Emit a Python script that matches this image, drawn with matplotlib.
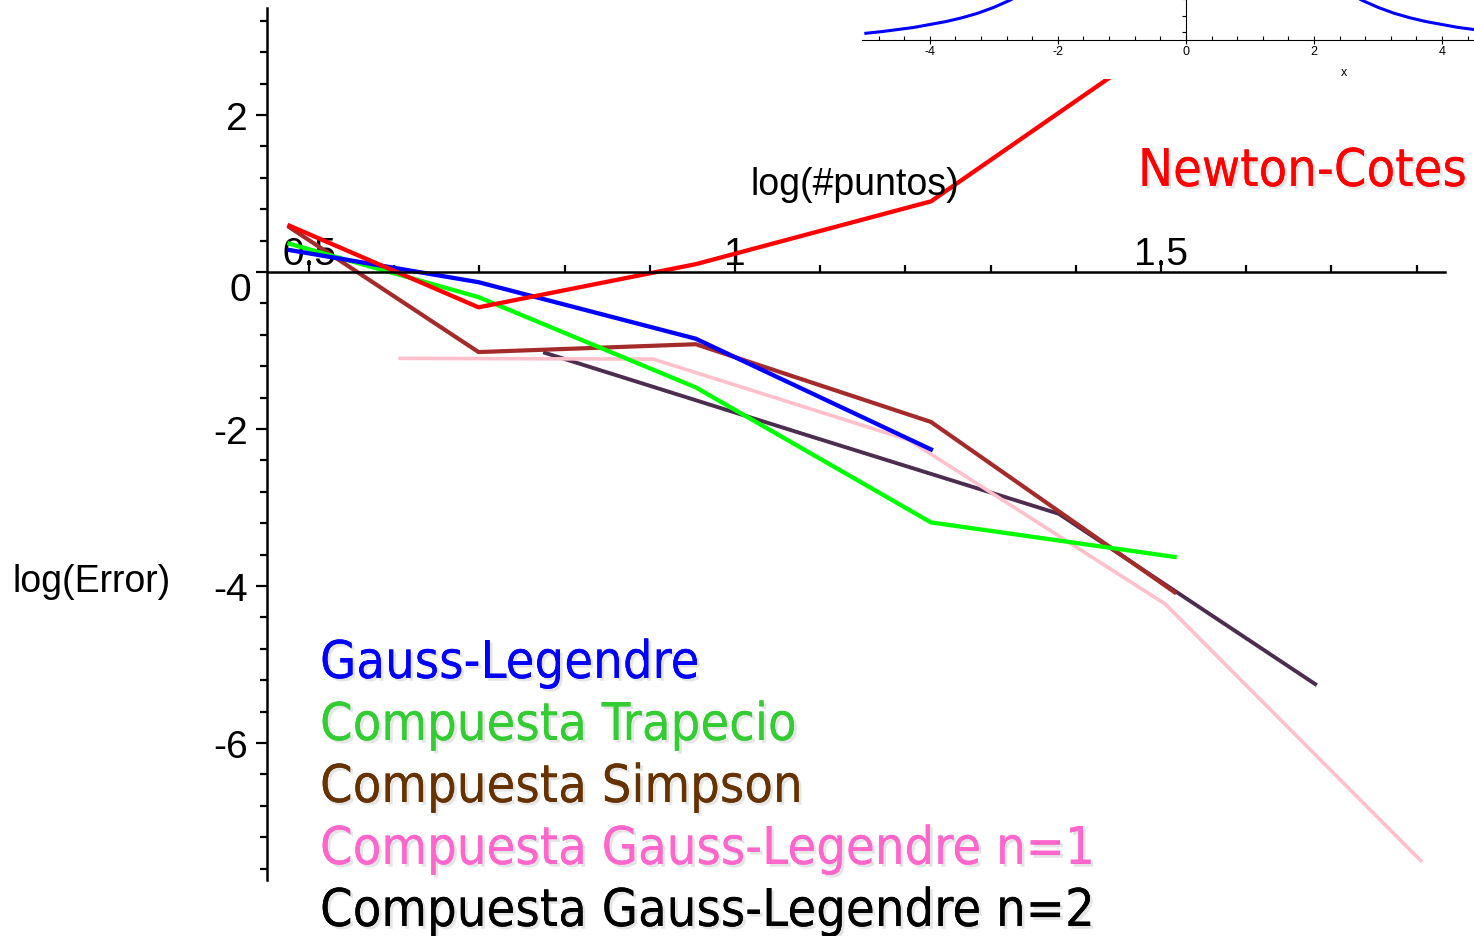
import matplotlib
matplotlib.use("Agg")
import numpy as np
import matplotlib.pyplot as plt
from matplotlib.ticker import FixedLocator
from matplotlib import patheffects as pe

# log10(#puntos) vs log10(error)
x_odd = [0.477, 0.699, 0.954, 1.230, 1.516]
newton_cotes = [0.59, -0.45, 0.10, 0.90, 3.05]
gauss_legendre = [0.28, -0.13, -0.85, -2.26]
trapecio = [0.36, -0.32, -1.47, -3.19, -3.63]
simpson = [0.57, -1.02, -0.92, -1.91, -4.08]
x_gl1 = [0.607, 0.904, 1.204, 1.505, 1.805]
gl_n1 = [-1.10, -1.11, -2.14, -4.23, -7.50]
x_gl2 = [0.777, 1.079, 1.380, 1.681]
gl_n2 = [-1.03, -2.06, -3.08, -5.25]

labels = ["Gauss-Legendre", "Compuesta Trapecio", "Compuesta Simpson",
          "Compuesta Gauss-Legendre n=1", "Compuesta Gauss-Legendre n=2"]
label_colors = ["#0000ff", "#33cc33", "#663300", "#ff66cc", "#000000"]

xticks = [0.5, 1, 1.5]
xtick_labels = ["0.5", "1", "1.5"]
yticks = [-6, -4, -2, 0, 2]
ytick_labels = ["-6", "-4", "-2", "", "2"]

# recuadro: integrando (solo la parte inferior es visible)
f_x = [-5.0, -4.75, -4.5, -4.25, -4.0, -3.75, -3.5, -3.25, -3.0, -2.75, -2.5, -2.0, -1.0, 0.0,
       1.0, 2.0, 2.5, 2.75, 3.0, 3.25, 3.5, 3.75, 4.0, 4.25, 4.5, 4.75, 5.0]
f_y = [0.038, 0.042, 0.047, 0.052, 0.059, 0.066, 0.075, 0.086, 0.100, 0.117, 0.138, 0.2, 0.5, 1.0,
       0.5, 0.2, 0.138, 0.117, 0.100, 0.086, 0.075, 0.066, 0.059, 0.052, 0.047, 0.042, 0.038]
inset_ticks = [-4, -2, 0, 2, 4]

W, H = 1474, 937
fx = lambda px: px / W
fy = lambda py: 1 - py / H

plt.rcParams['font.family'] = ['Liberation Sans', 'DejaVu Sans']
fig = plt.figure(figsize=(W / 100, H / 100), dpi=100)
ax = fig.add_axes([0, 0, 1, 1])
ax.set_xlim(0.1373, 1.8674); ax.set_ylim(-8.459, 3.478)

ax.plot(x_gl2, gl_n2, color="#4c2c4f", lw=2.8, zorder=2.0)
ax.plot(x_gl1, gl_n1, color="#ffc0cb", lw=2.6, zorder=2.1)
ax.plot(x_odd, simpson, color="#a52a2a", lw=3.0, zorder=2.2)
ax.plot(x_odd, trapecio, color="#00ff00", lw=3.1, zorder=2.3)
ax.plot(x_odd[:4], gauss_legendre, color="#0000ff", lw=3.1, zorder=2.4)
ax.plot(x_odd, newton_cotes, color="#ff0000", lw=3.1, zorder=2.5)

for s in ("right", "bottom"):
    ax.spines[s].set_visible(False)
ax.spines["left"].set_position(("data", 0.451)); ax.spines["left"].set_bounds(-7.75, 3.36)
ax.spines["top"].set_position(("data", 0)); ax.spines["top"].set_bounds(0.451, 1.833)
for s in ("left", "top"):
    ax.spines[s].set_linewidth(1.8)
ax.xaxis.set_ticks_position("top"); ax.yaxis.set_ticks_position("left")
ax.set_xticks(xticks, xtick_labels)
ax.xaxis.set_minor_locator(FixedLocator([v for v in np.round(np.arange(0.6, 1.81, 0.1), 1) if v not in (1.0, 1.5)]))
ax.set_yticks(yticks, ytick_labels)
ax.yaxis.set_minor_locator(FixedLocator(np.round(np.arange(-7.6, 3.3, 0.4), 1)))
ax.tick_params(axis="x", which="major", direction="out", length=9, width=1.6, pad=-9, labelsize=28)
ax.tick_params(axis="x", which="minor", direction="out", length=5, width=1.6)
ax.tick_params(axis="y", which="major", direction="out", length=8, width=1.6, pad=6, labelsize=28)
ax.tick_params(axis="y", which="minor", direction="out", length=5, width=1.6)
ax.text(fx(240), fy(291), "0", transform=ax.transAxes, ha="center", va="center", fontsize=28)

ax.text(fx(855), fy(185), "log(#puntos)", transform=ax.transAxes, ha="center", va="center", fontsize=27)
ax.text(fx(92), fy(582), "log(Error)", transform=ax.transAxes, ha="center", va="center", fontsize=27)

shadow = [pe.withSimplePatchShadow(offset=(2, -2), shadow_rgbFace="#aaaaaa", alpha=0.3), pe.Normal()]
big = dict(family="DejaVu Sans", fontstretch="condensed", fontsize=37.5, va="baseline", ha="left",
           transform=ax.transAxes, path_effects=shadow)
ax.text(fx(1138), fy(187), "Newton-Cotes", color="#ff0000", **big)
for i, (lab, c) in enumerate(zip(labels, label_colors)):
    ax.text(fx(320), fy(679 + 62 * i), lab, color=c, **big)

# recuadro con la funcion
ins = fig.add_axes([fx(862), fy(80), fx(1474) - fx(862), 80 / H])
ins.set_zorder(5)
ins.set_xlim(-5.06, 4.5); ins.set_ylim(-0.0714, 0.1196)
ins.plot(f_x, f_y, color="#0000ff", lw=2.2)
for s in ("right", "top"):
    ins.spines[s].set_visible(False)
ins.spines["bottom"].set_position(("data", 0.021))
ins.spines["left"].set_position(("data", 0)); ins.spines["left"].set_bounds(0.021, 0.1196)
ins.set_xticks(inset_ticks, [str(t) for t in inset_ticks])
ins.xaxis.set_minor_locator(FixedLocator(np.round(np.arange(-4.8, 4.5, 0.4), 1)))
ins.set_yticks([0.04, 0.08, 0.12], ["", "", ""])
ins.tick_params(axis="x", which="major", direction="inout", length=6, width=0.8, pad=0, labelsize=9)
ins.tick_params(axis="x", which="minor", direction="in", length=3, width=0.8)
ins.tick_params(axis="y", direction="out", length=3, width=0.8)
ins.text(fx(1344), fy(73), "x", transform=fig.transFigure, ha="center", va="center", fontsize=9)

fig.savefig("out.png", dpi=100)
